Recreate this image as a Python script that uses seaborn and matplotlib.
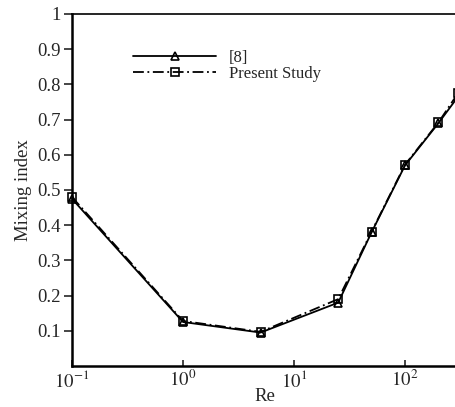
import numpy as np
import pandas as pd
import matplotlib
matplotlib.use("Agg")
import matplotlib.pyplot as plt
import seaborn as sns

# data
re_values = [0.1, 1, 5, 25, 50, 100, 200, 300]
mix_ref8 = [0.475, 0.125, 0.095, 0.180, 0.380, 0.570, 0.690, 0.765]
mix_present = [0.480, 0.128, 0.097, 0.190, 0.382, 0.572, 0.692, 0.775]
series_names = ["[8]", "Present Study"]

df = pd.DataFrame({
    "Re": re_values * 2,
    "Mixing index": mix_ref8 + mix_present,
    "source": [series_names[0]] * len(re_values) + [series_names[1]] * len(re_values),
})

sns.set_theme(style="white")
plt.rcParams['font.family'] = ['Liberation Serif', 'DejaVu Serif']
plt.rcParams['mathtext.fontset'] = 'stix'

fs = 13.5

fig = plt.figure(figsize=(4.56, 4.07), dpi=100)
ax = fig.add_axes([72 / 456, 1 - 366 / 407, 386 / 456, 352 / 407])

sns.lineplot(data=df, x="Re", y="Mixing index", hue="source", style="source",
             markers={"[8]": "^", "Present Study": "s"},
             dashes={"[8]": "", "Present Study": (6, 2, 1, 2)},
             palette={"[8]": "black", "Present Study": "black"},
             markersize=6, markerfacecolor="none", markeredgecolor="black",
             markeredgewidth=1.2, linewidth=1.3, ax=ax, clip_on=False)

ax.set_xscale("log")
ax.set_xlim(0.1, 300)
ax.set_ylim(0, 1)
ax.set_yticks([0.1, 0.2, 0.3, 0.4, 0.5, 0.6, 0.7, 0.8, 0.9, 1])
ax.set_yticklabels(["0.1", "0.2", "0.3", "0.4", "0.5", "0.6", "0.7", "0.8", "0.9", "1"])
ax.set_xticks([0.1, 1, 10, 100])
ax.set_xticklabels([r"$10^{-1}$", r"$10^{0}$", r"$10^{1}$", r"$10^{2}$"])
ax.xaxis.set_minor_locator(matplotlib.ticker.NullLocator())

ax.tick_params(axis="x", direction="in", length=4, width=1.2, labelsize=fs, pad=3, bottom=True)
ax.tick_params(axis="y", direction="out", length=6, width=1.2, labelsize=fs, pad=2, left=True)

ax.set_xlabel("Re", fontsize=fs, labelpad=-2)
ax.set_ylabel("Mixing index", fontsize=fs, labelpad=4)

for side in ["left", "bottom"]:
    ax.spines[side].set_linewidth(1.8)
    ax.spines[side].set_color("black")
ax.spines["top"].set_linewidth(1.2)
ax.spines["top"].set_color("black")
ax.spines["right"].set_visible(False)

leg = ax.legend(loc="upper left", bbox_to_anchor=(133 / 456, 1 - 50 / 407),
                bbox_transform=fig.transFigure, frameon=False,
                fontsize=12, handlelength=5.0, handletextpad=0.75,
                labelspacing=0.0, borderpad=0, borderaxespad=0, title=None)

fig.savefig("out.png", dpi=100)
